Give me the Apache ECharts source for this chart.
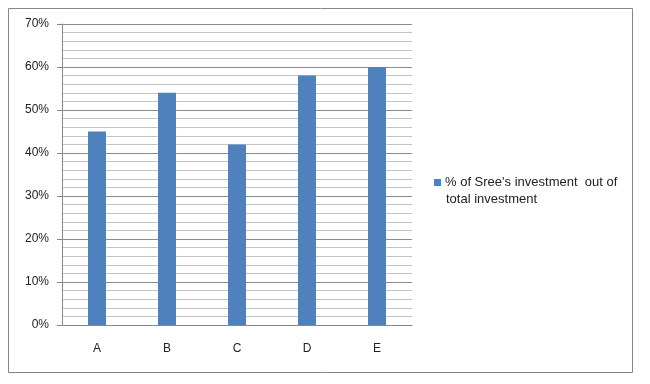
<!DOCTYPE html>
<html>
<head>
<meta charset="utf-8">
<script src="https://cdn.jsdelivr.net/npm/echarts@6/dist/echarts.min.js"></script>
<style>html,body{margin:0;padding:0;background:#fff}#c{width:650px;height:384px}</style>
</head>
<body>
<div id="c"></div>
<script>
const categories = ['A', 'B', 'C', 'D', 'E'];
const values = [0.45, 0.54, 0.42, 0.58, 0.60];
const seriesName = "% of Sree's investment  out of";
const seriesName2 = 'total investment';

const chart = echarts.init(document.getElementById('c'));
const font = 'Liberation Sans, Arial, sans-serif';
chart.setOption({
  animation: false,
  backgroundColor: '#fff',
  textStyle: { fontFamily: font },
  grid: { left: 62, top: 24, width: 350, height: 301 },
  legend: {
    show: true,
    left: 434, top: 176, padding: 0,
    itemWidth: 7, itemHeight: 7, icon: 'rect',
    textStyle: { fontFamily: font, fontSize: 13, color: '#222', padding: [0,0,0,-1] },
    data: [seriesName]
  },
  graphic: [
    { type: 'rect', shape: { x: 8.5, y: 8.5, width: 624, height: 364 }, style: { fill: 'none', stroke: '#868686', lineWidth: 1 }, silent: true },
    { type: 'text', left: 446, top: 193, style: { text: seriesName2, font: '13px ' + font, fill: '#222' } }
  ],
  xAxis: {
    type: 'category',
    data: categories,
    axisLine: { lineStyle: { color: '#868686' } },
    axisTick: { show: false },
    axisLabel: { color: '#222', fontSize: 12, margin: 18 }
  },
  yAxis: {
    type: 'value',
    min: 0, max: 0.7, interval: 0.1,
    axisLine: { show: true, lineStyle: { color: '#868686' } },
    axisTick: { show: true, length: 5, lineStyle: { color: '#868686' } },
    axisLabel: { color: '#222', fontSize: 12, margin: 13, formatter: v => Math.round(v * 100) + '%' },
    splitLine: { show: true, lineStyle: { color: '#8c8c8c' } },
    minorTick: { show: false, splitNumber: 5 },
    minorSplitLine: { show: true, lineStyle: { color: '#c4c4c4' } }
  },
  series: [{
    name: seriesName,
    type: 'bar',
    data: values,
    barWidth: 18,
    itemStyle: { color: '#4F81BD' }
  }]
});
</script>
</body>
</html>
